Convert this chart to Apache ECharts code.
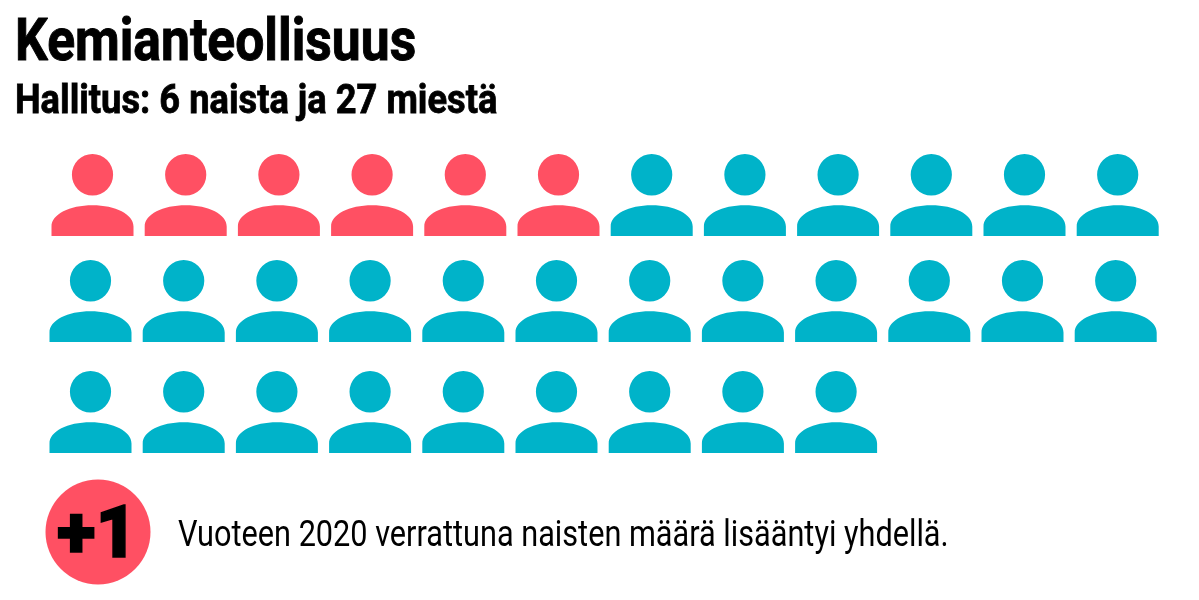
<!DOCTYPE html>
<html>
<head>
<meta charset="utf-8">
<style>
html, body { margin: 0; padding: 0; background: #fff; }
#main { width: 1199px; height: 600px; }
</style>
<script src="https://cdn.jsdelivr.net/npm/echarts@6/dist/echarts.min.js"></script>
</head>
<body>
<div id="main"></div>
<script>
var otsikko = 'Kemianteollisuus';
var alaotsikko = 'Hallitus: 6 naista ja 27 miestä';
var huomio = 'Vuoteen 2020 verrattuna naisten määrä lisääntyi yhdellä.';
var muutos = '+1';

var naiset = 6;
var miehet = 27;
var sarakkeet = ['1', '2', '3', '4', '5', '6', '7', '8', '9', '10', '11', '12'];
var rivit = ['1', '2', '3'];

var RED = '#ff5063';
var BLUE = '#00b3c9';
// head + shoulders
var PERSON = 'path://M41 0A20.6 20.6 0 1 1 41 41.2A20.6 20.6 0 1 1 41 0ZM0 81.5V72C0 60 18 51 41 51C64 51 82 60 82 72V81.5Z';

var gridPos = [
	{left: 45.9, top: 154, height: 82},
	{left: 43.9, top: 260, height: 82},
	{left: 43.9, top: 371, height: 82}
];

var grids = [], xAxes = [], yAxes = [], series = [];
var seat = 0;
rivit.forEach(function (rivi, r) {
	grids.push({left: gridPos[r].left, top: gridPos[r].top, width: 1118.4, height: gridPos[r].height});
	xAxes.push({type: 'category', gridIndex: r, data: sarakkeet, show: false});
	yAxes.push({type: 'category', gridIndex: r, data: [rivi], show: false});
	var data = [];
	sarakkeet.forEach(function (sarake) {
		if (seat >= naiset + miehet) return;
		data.push({value: [sarake, rivi], itemStyle: {color: seat < naiset ? RED : BLUE, opacity: 1}});
		seat++;
	});
	series.push({
		type: 'scatter',
		xAxisIndex: r,
		yAxisIndex: r,
		symbol: PERSON,
		symbolSize: [82, 82],
		silent: true,
		data: data
	});
});

var chart = echarts.init(document.getElementById('main'), null, {renderer: 'canvas'});
chart.setOption({
	animation: false,
	grid: grids,
	xAxis: xAxes,
	yAxis: yAxes,
	series: series,
	graphic: [
		{type: 'text', x: 15, y: 15, scaleX: 0.86, style: {text: otsikko, fill: '#000', stroke: '#000', lineWidth: 1, font: '700 60px Roboto'}},
		{type: 'text', x: 15, y: 82, scaleX: 0.885, style: {text: alaotsikko, fill: '#000', stroke: '#000', lineWidth: 0.8, font: '700 41px Roboto'}},
		{type: 'circle', shape: {cx: 98, cy: 532, r: 52.5}, style: {fill: RED}},
		{type: 'text', x: 57, y: 503, style: {text: muutos, fill: '#000', stroke: '#000', lineWidth: 1.5, font: '900 72px Roboto'}},
		{type: 'text', x: 178, y: 518, scaleX: 0.829, style: {text: huomio, fill: '#000', font: '400 37px Roboto'}}
	]
});
</script>
</body>
</html>
